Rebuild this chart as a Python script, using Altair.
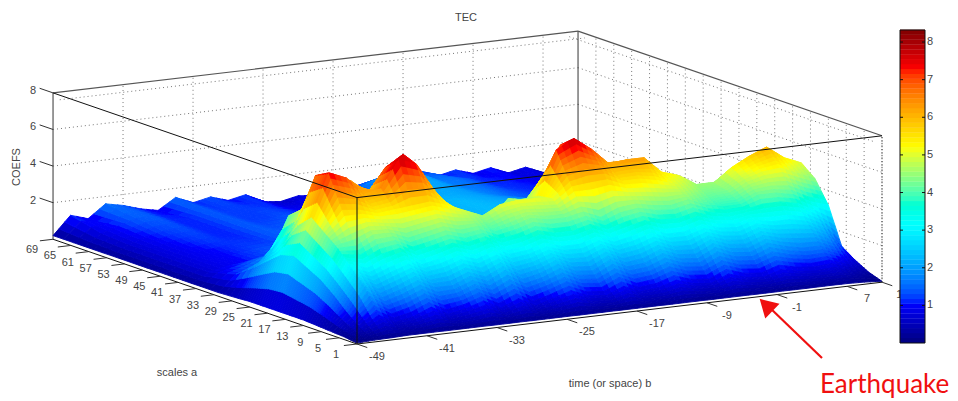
import altair as alt
import pandas as pd

alt.data_transformers.disable_max_rows()

# ---- values ----
b_values = [-49,-47,-45,-43,-41,-39,-37,-35,-33,-31,-29,-27,-25,-23,-21,-19,-17,-15,-13,-11,-9,-7,-5,-3,-1,1,3,5,7,9,11]
a_values = [1,4,7,10,13,16,19,22,25,28,32,38,44,50,56,62,69]
z_a1  = [.05,.10,.12,.15,.15,.15,.15,.15,.15,.15,.15,.15,.15,.15,.15,.15,.15,.15,.15,.15,.15,.15,.15,.15,.15,.15,.15,.15,.15,.12,.05]
z_a4  = [.15,.5,1.1,.6,.8,1.2,.7,.9,1.2,.7,1.1,.6,.9,1.2,.8,.7,1.1,.7,.8,1.1,.8,.7,1.1,.8,.7,1.0,.8,.7,.8,.5,.3]
z_a7  = [.2,1.1,2.4,1.7,2.0,2.4,1.9,1.9,2.3,1.9,2.4,1.8,2.0,2.4,1.9,1.8,2.3,1.8,1.9,2.3,1.9,1.8,2.3,1.9,1.8,2.2,1.9,1.7,1.7,1.3,.7]
z_a10 = [.25,1.8,3.2,2.8,3.2,3.5,2.9,3.1,3.4,3.1,3.4,2.9,3.0,3.3,3.0,3.0,3.3,2.9,3.1,3.4,3.0,3.0,3.3,3.0,2.9,3.2,3.0,3.0,2.8,2.3,1.2]
z_a13 = [.3,2.4,4.0,4.0,4.5,4.5,4.1,4.3,4.5,4.2,4.3,3.9,4.1,4.4,4.2,4.2,4.4,4.0,4.4,4.5,4.3,4.2,4.4,4.0,3.8,3.8,4.2,4.2,4.0,3.5,3.2]
z_a16 = [.3,2.8,4.6,5.7,5.6,5.3,5.4,5.5,5.6,5.3,4.9,4.5,5.0,5.1,5.1,5.0,5.8,6.0,6.0,5.5,5.5,5.3,5.0,4.6,4.2,4.3,4.8,5.1,5.2,4.8,4.4]
z_a19 = [.3,3.2,5.2,7.5,7.1,6.1,6.3,7.8,7.4,5.9,4.4,3.8,3.8,4.7,4.6,4.9,7.3,7.8,7.1,6.2,6.3,6.3,5.4,5.1,4.5,4.5,5.2,5.7,6.1,5.4,5.0]
z_a22 = [.3,3.0,4.5,7.1,6.9,6.6,5.8,7.1,7.7,6.3,3.5,3.0,3.2,3.6,4.6,4.4,5.6,7.2,7.0,6.1,5.7,4.8,3.8,3.6,3.5,3.6,4.2,4.6,4.8,4.5,4.2]
z_a25 = [.3,2.4,3.3,5.0,5.6,5.2,4.6,5.8,6.6,4.5,2.8,2.6,2.6,3.0,3.2,3.2,4.0,5.5,5.4,3.9,3.7,3.4,3.0,2.9,3.0,3.1,3.4,3.5,3.6,3.4,3.2]
z_a28 = [.25,1.8,2.4,4.4,3.8,3.4,3.1,4.0,4.4,3.3,2.4,2.3,2.3,2.4,2.5,2.6,3.0,3.8,3.8,3.0,2.9,2.7,2.5,2.4,2.5,2.7,2.8,2.7,2.7,2.5,2.3]
z_a32 = [.2,1.1,1.4,1.9,2.0,2.0,2.2,2.4,2.4,2.3,2.1,2.0,2.0,2.1,2.1,2.1,2.3,2.6,2.5,2.3,2.2,2.1,2.0,2.0,2.0,2.1,2.1,2.0,1.9,1.7,1.4]
z_a38 = [.2,.7,.9,1.0,1.2,1.4,1.5,1.7,1.7,1.8,1.8,1.8,1.9,2.0,2.1,2.1,2.2,2.3,2.3,2.2,2.1,2.0,1.9,1.7,1.7,1.7,1.6,1.5,1.4,1.2,.9]
z_a44 = [.2,.7,.9,1.0,1.1,1.2,1.2,1.4,1.5,1.6,1.7,1.8,1.9,2.0,2.1,2.2,2.2,2.3,2.2,2.1,2.0,1.9,1.7,1.5,1.4,1.4,1.3,1.2,1.1,.9,.6]
z_a50 = [.2,.7,.9,1.1,1.2,1.1,1.1,1.4,1.3,1.4,1.5,1.5,1.5,1.7,1.8,1.9,2.0,2.1,2.1,2.0,1.8,1.6,1.4,1.3,1.2,1.2,1.1,1.0,.9,.7,.4]
z_a56 = [.2,.7,1.0,1.2,1.3,1.1,1.1,1.4,1.2,1.2,1.3,1.2,1.1,1.2,1.4,1.6,1.8,2.0,2.1,2.0,1.7,1.6,1.4,1.2,1.1,1.1,1.0,.9,.7,.6,.3]
z_a62 = [.2,.8,1.1,1.4,1.4,1.1,1.1,1.4,1.2,1.2,1.2,1.1,.9,.9,1.0,1.2,1.5,2.0,2.3,2.1,1.6,1.6,1.4,1.1,1.1,1.0,.9,.8,.6,.5,.3]
z_a69 = [.2,1.2,.9,1.6,1.4,1.1,.9,1.5,1.1,1.3,1.0,1.2,.7,.6,.8,.7,.9,.9,1.1,1.0,1.2,1.35,1.0,1.2,.9,1.1,.7,.9,.5,.5,.2]
z_rows = [z_a1,z_a4,z_a7,z_a10,z_a13,z_a16,z_a19,z_a22,z_a25,z_a28,z_a32,z_a38,z_a44,z_a50,z_a56,z_a62,z_a69]

a_ticks = [1,5,9,13,17,21,25,29,33,37,41,45,49,53,57,61,65,69]
b_ticks = [-49,-41,-33,-25,-17,-9,-1,7]
b_end = 11
z_ticks = [2,4,6,8]
cbar_ticks = [1,2,3,4,5,6,7,8]
z_max = 8.32
jet_pos = [0,.125,.375,.625,.875,1]
jet = ["#00007f","#0000ff","#00ffff","#ffff00","#ff0000","#7f0000"]

# ---- view of the box (page pixels minus the 8px margin) ----
W, H = 942, 392
def px(a,b): return f"(349+8.75*({b}+49)-4.47*({a}-1))"
def py(a,b,z): return f"(336-1.03*({b}+49)-1.54*({a}-1)-18.3*({z}))"
def pxn(a,b): return 349+8.75*(b+49)-4.47*(a-1)
def pyn(a,b,z): return 336-1.03*(b+49)-1.54*(a-1)-18.3*z

X = alt.X("px:Q", scale=alt.Scale(domain=[0,W], nice=False, zero=False), axis=None)
Y = alt.Y("py:Q", scale=alt.Scale(domain=[H,0], nice=False, zero=False), axis=None)
JET = alt.Scale(domain=[p*z_max for p in jet_pos], range=jet)

def seg_chart(rows, **mark):
    df = pd.DataFrame(rows, columns=["a","b","z","a2","b2","z2"])
    return alt.Chart(df).mark_rule(**mark).transform_calculate(
        px=px("datum.a","datum.b"), py=py("datum.a","datum.b","datum.z"),
        px2=px("datum.a2","datum.b2"), py2=py("datum.a2","datum.b2","datum.z2")
    ).encode(x=X, y=Y, x2="px2:Q", y2="py2:Q")

b0, b1, a0, a1, zt = b_values[0], b_end, a_values[0], a_values[-1], 8

# back-wall dotted grid
grid = []
for t in b_ticks[1:]: grid.append((a1,t,0,a1,t,zt))
for t in a_ticks[:-1]: grid.append((t,b1,0,t,b1,zt))
for z in z_ticks[:-1]:
    grid.append((a1,b0,z,a1,b1,z)); grid.append((a1,b1,z,a0,b1,z))
grid_layer = seg_chart(grid, color="#777777", strokeWidth=1, strokeDash=[1,3])
top_dots = seg_chart([(a1-1.5,b0,zt-.25,a1-1.5,b1,zt-.25),(a1,b1-1,zt-.25,a0,b1-1,zt-.25)], color="#777777", strokeWidth=1, strokeDash=[1,3])
right_edge = seg_chart([(a0,b1,0,a0,b1,zt)], color="#222222", strokeWidth=1, strokeDash=[1,2])
back_box = seg_chart([(a1,b0,0,a1,b0,zt),(a1,b1,0,a1,b1,zt),(a1,b0,zt,a1,b1,zt),(a1,b1,zt,a0,b1,zt)], color="#555555", strokeWidth=1.2)

# surface: table cells shaded bilinearly (like "shading interp"), painted back to front
def lerp(u,v,t): return u+(v-u)*t
fa = []
for i in range(len(a_values)-1):
    n = 6 if a_values[i] < 28 else 3
    for s in range(n):
        fa.append((lerp(a_values[i],a_values[i+1],s/n), i, s/n))
fa.append((a_values[-1], len(a_values)-2, 1.0))
fb = []
for j in range(len(b_values)-1):
    for q in range(3):
        fb.append((lerp(b_values[j],b_values[j+1],q/3), j, q/3))
fb.append((b_values[-1], len(b_values)-2, 1.0))
def zval(ra, rb):
    _, i, t = ra; _, j, u = rb
    return lerp(lerp(z_rows[i][j],z_rows[i][j+1],u),lerp(z_rows[i+1][j],z_rows[i+1][j+1],u),t)
cells = []
for k in range(len(fa)-2,-1,-1):
    ra, rn = fa[k], fa[k+1]
    for m in range(len(fb)-1):
        r1, r2 = fb[m], fb[m+1]
        corners = [(ra,r1),(rn,r1),(rn,r2),(ra,r2)]
        zs = [zval(p,q) for p,q in corners]
        ring = [[round(pxn(p[0],q[0]),1), round(pyn(p[0],q[0],zval(p,q)),1)] for p,q in corners]
        ring.append(ring[0])
        cells.append({"type":"Feature","geometry":{"type":"Polygon","coordinates":[ring]},"properties":{"zm":round(sum(zs)/4,3)}})
surface = alt.Chart(alt.Data(values=cells)).mark_geoshape(strokeWidth=0.9).project(
    type="identity", scale=1, translate=[0,0]
).encode(
    fill=alt.Fill("properties.zm:Q", scale=JET, legend=None),
    stroke=alt.Stroke("properties.zm:Q", scale=JET, legend=None),
)

# box edges in front of the surface
front = seg_chart([(a0,b0,0,a0,b0,zt),(a1,b0,zt,a0,b0,zt),(a0,b0,zt,a0,b1,zt),(a1,b0,0,a0,b0,0),(a0,b0,0,a0,b1,0)], color="#111111", strokeWidth=1)

# ticks
tk = [(t,b0,0,t,b0-1.5,0) for t in a_ticks]
tk += [(a0,t,0,a0-2.3,t,0) for t in b_ticks+[b_end]]
tk += [(a1,b0,z,a1+3,b0,z) for z in z_ticks]
ticks = seg_chart(tk, color="#333333", strokeWidth=1)

FONT = "Liberation Sans"
def labels(rows, dx, dy):
    df = pd.DataFrame(rows, columns=["a","b","z","t"])
    return alt.Chart(df).mark_text(font=FONT, fontSize=11, color="#444444", dx=dx, dy=dy, align="center", baseline="middle").transform_calculate(
        px=px("datum.a","datum.b"), py=py("datum.a","datum.b","datum.z")
    ).encode(x=X, y=Y, text="t:N")

a_lab = labels([(t,b0,0,str(t)) for t in a_ticks], -21, 11)
b_lab = labels([(a0,t,0,str(t)) for t in b_ticks+[b_end]], 20, 13)
z_lab = labels([(a1,b0,z,str(z)) for z in z_ticks], -20, -2)

def static_text(s, x, y, **kw):
    base = dict(font=FONT, fontSize=11, color="#444444", align="center", baseline="middle")
    base.update(kw)
    return alt.Chart(pd.DataFrame({"t":[s]})).mark_text(**base).encode(x=alt.value(x), y=alt.value(y), text="t:N")

title = static_text("TEC", 458, 10)
zt_lab = static_text("COEFS", 9, 159, angle=270)
a_title = static_text("scales a", 169, 365)
b_title = static_text("time (or space) b", 602, 376)

# colorbar
levels = [z_max*i/64 for i in range(64)]
cb_df = pd.DataFrame({"lo":levels, "hi":[v+z_max/64 for v in levels]})
CY = alt.Y("cy:Q", scale=alt.Scale(domain=[H,0], nice=False, zero=False), axis=None)
cb_expr = lambda f: f"335-{f}/{z_max}*313"
cbar = alt.Chart(cb_df).mark_rect().transform_calculate(
    cy=cb_expr("datum.lo"), cy2=cb_expr("datum.hi")+"-0.3", zm="(datum.lo+datum.hi)/2"
).encode(x=alt.value(892), x2=alt.value(917), y=CY, y2="cy2:Q", color=alt.Color("zm:Q", scale=JET, legend=None))
cb_box = alt.Chart(pd.DataFrame({"v":[1]})).mark_rect(fillOpacity=0, stroke="#111111", strokeWidth=1).encode(
    x=alt.value(892), x2=alt.value(917), y=alt.value(22), y2=alt.value(335))
cb_tdf = pd.DataFrame({"z":cbar_ticks})
cb_t1 = alt.Chart(cb_tdf).mark_rule(color="#111111").transform_calculate(cy=cb_expr("datum.z")).encode(
    x=alt.value(892), x2=alt.value(895), y=CY)
cb_t2 = alt.Chart(cb_tdf).mark_rule(color="#111111").transform_calculate(cy=cb_expr("datum.z")).encode(
    x=alt.value(914), x2=alt.value(917), y=CY)
cb_lab = alt.Chart(cb_tdf).mark_text(font=FONT, fontSize=11, color="#444444", align="left", baseline="middle").transform_calculate(cy=cb_expr("datum.z")).encode(
    x=alt.value(919), y=CY, text="z:N")

# annotation
red = "#f01010"
one = pd.DataFrame({"v":[1]})
arrow_line = alt.Chart(one).mark_rule(color=red, strokeWidth=2.2).encode(
    x=alt.value(814), x2=alt.value(760), y=alt.value(350), y2=alt.value(298))
arrow_head = alt.Chart(one).mark_point(shape="triangle-up", filled=True, color=red, opacity=1, size=420, angle=314).encode(
    x=alt.value(758), y=alt.value(297))
quake = static_text("Earthquake", 812, 385, font="Lato", fontSize=26, color=red, align="left", baseline="alphabetic")

chart = alt.layer(
    grid_layer, top_dots, right_edge, back_box, surface, front, ticks,
    a_lab, b_lab, z_lab, title, zt_lab, a_title, b_title,
    cbar, cb_box, cb_t1, cb_t2, cb_lab, arrow_line, arrow_head, quake
).resolve_scale(color="shared", fill="shared", stroke="shared").properties(
    width=W, height=H, padding=0, autosize=alt.AutoSizeParams(type="none")
).configure_view(stroke=None)

chart.save("out.html", embed_options={"renderer": "svg", "actions": False})
